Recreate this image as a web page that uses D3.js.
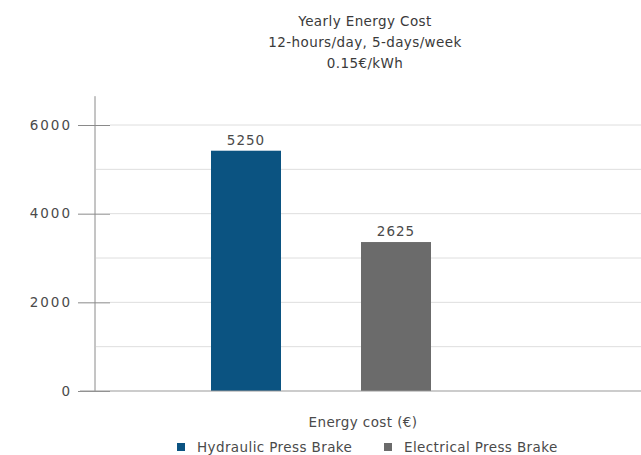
<!DOCTYPE html>
<html>
<head>
<meta charset="utf-8">
<script src="https://cdn.jsdelivr.net/npm/d3@7"></script>
<style>
  body { margin: 0; background: #fff; }
  text { font-family: "DejaVu Sans", sans-serif; fill: #4a4a4a; letter-spacing: 0.4px; }
</style>
</head>
<body>
<div id="chart"></div>
<script>
// chart data
const categories = ['Hydraulic Press Brake', 'Electrical Press Brake'];
const barHeights = [5420, 3360];          // bar heights as drawn in the picture
const barLabels = ['5250', '2625'];       // printed value labels
const colors = ['#0b5381', '#6b6b6b'];
const titleLines = ['Yearly Energy Cost', '12-hours/day, 5-days/week', '0.15€/kWh'];
const yTicks = [0, 2000, 4000, 6000];
const minorTicks = [1000, 3000, 5000];
const xLabel = 'Energy cost (€)';

const width = 641, height = 455;

const svg = d3.select('#chart').append('svg')
    .attr('width', width)
    .attr('height', height);

// scales
const y = d3.scaleLinear()
    .domain([0, 6000])
    .range([391, 125]);

const x = d3.scaleBand()
    .domain(categories)
    .range([171, 471]);

const barW = 70;

// title
svg.append('g').selectAll('text')
    .data(titleLines)
    .enter().append('text')
        .attr('x', 365)
        .attr('y', (d, i) => 26 + i * 21)
        .attr('text-anchor', 'middle')
        .style('font-size', '13.5px')
        .style('fill', '#3a3a3a')
        .text(d => d);

// minor gridlines
svg.append('g').selectAll('line')
    .data(minorTicks)
    .enter().append('line')
        .attr('x1', 96).attr('x2', width)
        .attr('y1', d => y(d)).attr('y2', d => y(d))
        .attr('stroke', '#dedede');

// major gridlines
svg.append('g').selectAll('line')
    .data(yTicks.filter(d => d > 0))
    .enter().append('line')
        .attr('x1', 110).attr('x2', width)
        .attr('y1', d => y(d)).attr('y2', d => y(d))
        .attr('stroke', '#dedede');

// y axis
const axis = svg.append('g')
    .attr('transform', 'translate(110,0)')
    .call(d3.axisLeft(y).tickValues(yTicks).tickSize(32).tickPadding(6).tickFormat(d3.format('d')));
axis.select('.domain').remove();
axis.selectAll('.tick line').attr('stroke', '#8a8a8a');
axis.selectAll('.tick text')
    .style('font-size', '13.5px')
    .style('letter-spacing', '2px')
    .style('fill', '#4a4a4a');

svg.append('line')
    .attr('x1', 95).attr('x2', 95)
    .attr('y1', y(6650)).attr('y2', y(0))
    .attr('stroke', '#8a8a8a');

// bars
svg.append('g').selectAll('rect')
    .data(categories)
    .enter().append('rect')
        .attr('x', d => x(d) + (x.bandwidth() - barW) / 2)
        .attr('y', (d, i) => y(barHeights[i]))
        .attr('width', barW)
        .attr('height', (d, i) => y(0) - y(barHeights[i]))
        .attr('fill', (d, i) => colors[i]);

// value labels
svg.append('g').selectAll('text')
    .data(categories)
    .enter().append('text')
        .attr('x', d => x(d) + x.bandwidth() / 2)
        .attr('y', (d, i) => y(barHeights[i]) - 6)
        .attr('text-anchor', 'middle')
        .style('font-size', '13.5px')
        .style('letter-spacing', '1px')
        .text((d, i) => barLabels[i]);

// baseline
svg.append('line')
    .attr('x1', 80).attr('x2', width)
    .attr('y1', y(0)).attr('y2', y(0))
    .attr('stroke', '#999');

// x axis label
svg.append('text')
    .attr('x', 363)
    .attr('y', 427)
    .attr('text-anchor', 'middle')
    .style('font-size', '13.5px')
    .text(xLabel);

// legend
const legendX = [177, 384];
const legend = svg.append('g').selectAll('g')
    .data(categories)
    .enter().append('g')
        .attr('transform', (d, i) => `translate(${legendX[i]},447)`);
legend.append('rect')
    .attr('x', 0).attr('y', -4)
    .attr('width', 8).attr('height', 8)
    .attr('fill', (d, i) => colors[i]);
legend.append('text')
    .attr('x', 20)
    .attr('y', 5)
    .style('font-size', '13.5px')
    .text(d => d);
</script>
</body>
</html>
